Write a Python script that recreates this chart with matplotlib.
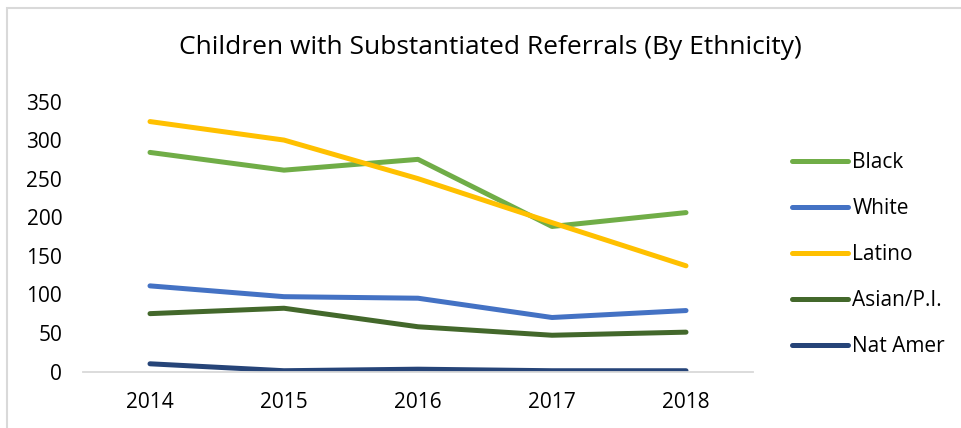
import numpy as np
import matplotlib
matplotlib.use('Agg')
from matplotlib import pyplot as plt
from matplotlib.patches import Rectangle

plt.rcParams['font.family'] = ['Open Sans', 'DejaVu Sans']

years = ['2014', '2015', '2016', '2017', '2018']
black = [284, 261, 275, 188, 206]
white = [111, 97, 95, 70, 79]
latino = [324, 300, 250, 193, 137]
asian = [75, 82, 58, 47, 51]
nat_amer = [10, 1, 3, 1, 1]

series = [('Black', black, '#70AD47'),
          ('White', white, '#4472C4'),
          ('Latino', latino, '#FFC000'),
          ('Asian/P.I.', asian, '#43682B'),
          ('Nat Amer', nat_amer, '#264478')]

fig = plt.figure(figsize=(9.61, 4.28), dpi=100)
ax = fig.add_axes([83/961, 1 - 371.5/428, 670/961, 270/428])

x = np.arange(len(years))
for name, vals, col in series:
    ax.plot(x, vals, color=col, lw=3.6, label=name, solid_capstyle='round', solid_joinstyle='round')

ax.set_xlim(-0.5, 4.5)
ax.set_ylim(0, 350)
ax.set_yticks(np.arange(0, 351, 50))
ax.set_xticks(x)
ax.set_xticklabels(years)
ax.tick_params(axis='both', length=0, labelsize=15, colors='#000000')
ax.tick_params(axis='y', pad=15)
ax.tick_params(axis='x', pad=15)
for s in ['top', 'right', 'left']:
    ax.spines[s].set_visible(False)
ax.spines['bottom'].set_color('#D9D9D9')
ax.spines['bottom'].set_linewidth(1.3)

fig.text(490/961, 1 - 47/428, 'Children with Substantiated Referrals (By Ethnicity)',
         ha='center', va='center', fontsize=19, color='#000000')

fig.legend(loc='upper left', bbox_to_anchor=(792/961, 1 - 152/428), frameon=False,
           fontsize=15, handlelength=2.7, handletextpad=0.2, labelspacing=1.2,
           borderpad=0, borderaxespad=0)

fig.patches.append(Rectangle((7/961, -0.1), 1.2, 0.981 + 0.1, fill=False,
                             edgecolor='#D9D9D9', lw=1.5, transform=fig.transFigure))

fig.savefig('out.png', dpi=100)
